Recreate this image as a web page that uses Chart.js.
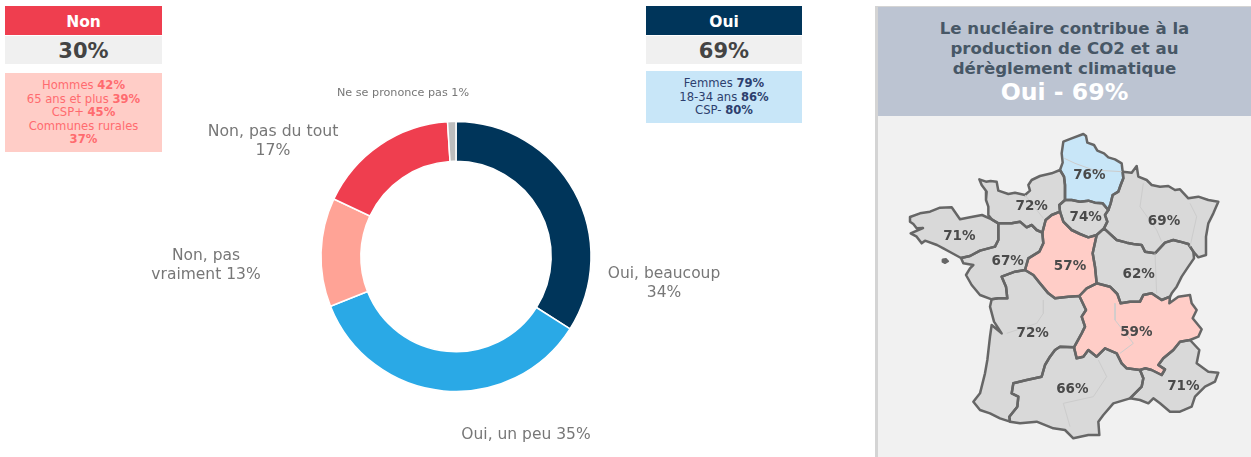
<!DOCTYPE html>
<html lang="fr">
<head>
<meta charset="UTF-8">
<title>Le nucléaire contribue à la production de CO2</title>
<script src="https://cdn.jsdelivr.net/npm/chart.js"></script>
<style>
    html, body { margin: 0; padding: 0; background: #fff; overflow: hidden; }
    body { width: 1251px; height: 457px; position: relative; font-family: "DejaVu Sans", sans-serif; }
    .box { position: absolute; text-align: center; box-sizing: border-box; }
    .head { height: 29px; line-height: 32px; font-weight: bold; font-size: 15.5px; color: #fff; top: 6px; }
    .score { height: 28px; line-height: 31px; font-weight: bold; font-size: 21px; color: #444; background: #f0f0f0; top: 36px; }
    .detail { font-size: 11.6px; line-height: 13.6px; }
    #non-head, #non-score, #non-detail { left: 5px; width: 157px; }
    #oui-head, #oui-score, #oui-detail { left: 646px; width: 156px; }
    #non-head { background: #ef3e4f; }
    #oui-head { background: #00355a; }
    #non-detail { top: 73px; height: 79px; padding-top: 6px; background: #ffcdc7; color: #ff6b6f; }
    #oui-detail { top: 71px; height: 52px; padding-top: 6px; background: #c8e6f8; color: #2d3f6e; }
    #panel { position: absolute; left: 875px; top: 6px; width: 376px; height: 451px; border-left: 3px solid #d4d4d4; border-top: 1px solid #d4d4d4; box-sizing: border-box; background: #f1f1f1; }
    #panel-head { height: 109px; background: #bcc4d2; text-align: center; padding-top: 12px; box-sizing: border-box; color: #475766; font-weight: bold; font-size: 16.6px; line-height: 20px; }
    #panel-head span { display: block; color: #fff; font-size: 23.6px; line-height: 26px; }
    canvas { position: absolute; display: block; }
</style>
</head>
<body>
<div class="box head" id="non-head">Non</div>
<div class="box score" id="non-score">30%</div>
<div class="box detail" id="non-detail">Hommes <b>42%</b><br>65 ans et plus <b>39%</b><br>CSP+ <b>45%</b><br>Communes rurales<br><b>37%</b></div>
<div class="box head" id="oui-head">Oui</div>
<div class="box score" id="oui-score">69%</div>
<div class="box detail" id="oui-detail">Femmes <b>79%</b><br>18-34 ans <b>86%</b><br>CSP- <b>80%</b></div>
<div id="panel">
    <div id="panel-head">Le nucléaire contribue à la<br>production de CO2 et au<br>dérèglement climatique<span>Oui - 69%</span></div>
</div>
<canvas id="donut" width="612" height="401" style="left:150px;top:56px"></canvas>
<canvas id="map" width="370" height="330" style="left:880px;top:120px"></canvas>

<script>
// donut
const answers = ['Oui, beaucoup', 'Oui, un peu', 'Non, pas vraiment', 'Non, pas du tout', 'Ne se prononce pas'];
const answerValues = [34, 35, 13, 17, 1];
const answerColors = ['#00355a', '#2aa9e6', '#ffa396', '#ef3e4f', '#bdbdbd'];

// map: scores by region
const regionNames = ['Hauts-de-France', 'Normandie', 'Bretagne', 'Pays de la Loire', 'Centre-Val de Loire', 'Ile-de-France',
    'Grand Est', 'Bourgogne-Franche-Comte', 'Nouvelle-Aquitaine', 'Auvergne-Rhone-Alpes', 'Occitanie', 'PACA'];
const regionValues = [76, 72, 71, 67, 57, 74, 69, 62, 72, 59, 66, 71];

// map: borders in map units (x 0-1110, y 0-990), each one shared by the regions on both sides
const hdfCoast = [[540,150],[548,128],[545,100],[550,65],[575,55],[610,42],[618,48],[622,68],[642,75],[652,92],[672,100],[685,112],[705,118],[725,130],[728,155]];
const hdfGrandEst = [[728,155],[730,175],[722,195],[715,215],[698,225],[692,250],[685,270]];
const hdfIdf = [[685,270],[668,250],[645,248],[625,242],[600,245],[575,240],[555,240]];
const hdfNormandie = [[555,240],[555,195],[552,170],[540,150]];
const normandieCoast = [[540,150],[515,160],[480,168],[455,180],[445,195],[450,212],[435,225],[405,218],[385,222],[355,212],[350,185],[332,183],[318,185],[298,178],[305,195],[320,215],[318,240],[325,260],[325,285],[335,298]];
const normandieBretagne = [[335,298],[355,310]];
const normandieLoire = [[355,310],[395,310],[420,305],[440,322],[455,315],[470,330],[487,338]];
const normandieCentre = [[487,338],[497,300],[515,285],[540,275]];
const normandieIdf = [[540,275],[538,255],[555,240]];
const idfCentre = [[540,275],[550,305],[575,330],[600,342],[625,352],[650,345]];
const idfBourgogne = [[650,345],[672,325]];
const idfGrandEst = [[672,325],[682,305],[675,285],[685,270]];
const grandEstNorth = [[728,155],[755,158],[770,138],[775,170],[800,180],[815,195],[840,200],[865,198],[885,210],[900,208],[925,235],[955,230],[985,240],[1015,245],[1000,280],[985,310],[978,350],[978,405],[955,412],[940,395]];
const grandEstBourgogne = [[940,395],[925,372],[900,365],[880,360],[855,368],[825,400],[795,395],[785,375],[760,372],[740,368],[710,360],[672,325]];
const bourgogneEast = [[940,395],[942,415],[925,440],[905,470],[890,500],[875,520],[870,530]];
const bourgogneAuvergne = [[870,530],[845,540],[815,520],[790,525],[780,545],[750,545],[722,550],[712,522],[690,500],[650,490]];
const bourgogneCentre = [[650,490],[645,440],[638,400],[650,345]];
const centreAuvergne = [[650,490],[620,505],[598,528]];
const centreAquitaine = [[598,528],[565,530],[525,535],[505,520],[480,490],[460,465],[435,450]];
const centreLoire = [[435,450],[445,415],[478,395],[490,370],[487,338]];
const loireAquitaine = [[435,450],[405,455],[365,470],[378,500],[382,535],[355,535],[335,538]];
const loireBretagne = [[355,310],[355,360],[345,380],[300,392],[270,408],[243,414]];
const loireCoast = [[243,414],[250,430],[280,435],[270,445],[258,465],[275,495],[300,525],[335,538]];
const bretagneCoast = [[243,414],[210,396],[190,385],[171,375],[135,362],[125,370],[110,350],[92,340],[129,324],[110,325],[100,312],[90,305],[90,291],[120,280],[150,275],[180,263],[215,262],[240,298],[270,292],[306,285],[335,298]];
const aquitaineCoast = [[335,538],[330,560],[342,605],[365,640],[335,615],[330,650],[322,720],[315,760],[300,820],[280,845],[300,870],[330,880],[360,895],[390,905]];
const aquitaineAuvergne = [[598,528],[618,570],[605,590],[615,620],[605,640],[582,682]];
const aquitaineOccitanie = [[582,682],[540,680],[525,690],[510,710],[495,735],[485,770],[440,780],[400,790],[395,820],[415,830],[412,860],[388,890],[390,905]];
const occitanieAuvergne = [[582,682],[590,715],[610,710],[625,690],[650,710],[675,685],[710,700],[725,730],[740,745],[780,750]];
const occitaniePaca = [[780,750],[790,775],[785,800],[750,835]];
const occitanieCoast = [[750,835],[700,850],[670,885],[655,905],[658,945],[625,945],[580,955],[555,930],[520,925],[470,905],[420,910],[390,905]];
const auvergnePaca = [[780,750],[795,745],[815,750],[845,765],[855,748],[835,735],[850,715],[880,690],[900,665],[930,660]];
const auvergneEast = [[930,660],[955,650],[965,628],[938,595],[950,570],[935,550],[930,525],[895,530],[868,550],[870,530]];
const pacaCoast = [[930,660],[958,690],[950,730],[985,755],[1015,758],[1005,785],[975,800],[945,830],[935,860],[900,875],[870,875],[840,850],[820,835],[805,850],[780,840],[750,835]];
const belleIle = [[187,418],[198,416],[205,424],[195,430],[188,426]];

// old region limits, the faint lines inside the big regions
const oldLimits = [
    [[553,115],[585,130],[640,150],[725,155]],
    [[790,190],[780,260],[830,330],[845,365]],
    [[930,250],[950,290],[930,380]],
    [[490,540],[490,580],[470,610],[380,640]],
    [[825,400],[830,520]],
    [[705,550],[705,600],[760,670],[720,700]],
    [[655,720],[680,770],[640,830],[550,850],[570,920]],
    [[435,225],[490,295]]
];

const back = chain => chain.slice().reverse();

const regionShapes = [
    [...hdfCoast, ...hdfGrandEst, ...hdfIdf, ...hdfNormandie],
    [...normandieCoast, ...normandieBretagne, ...normandieLoire, ...normandieCentre, ...normandieIdf, ...hdfNormandie],
    [...bretagneCoast, ...normandieBretagne, ...loireBretagne],
    [...normandieLoire, ...back(centreLoire), ...loireAquitaine, ...back(loireCoast), ...back(loireBretagne)],
    [...idfCentre, ...back(bourgogneCentre), ...centreAuvergne, ...centreAquitaine, ...centreLoire, ...normandieCentre],
    [...back(normandieIdf), ...idfCentre, ...idfBourgogne, ...idfGrandEst, ...hdfIdf],
    [...grandEstNorth, ...grandEstBourgogne, ...idfGrandEst, ...back(hdfGrandEst)],
    [...back(grandEstBourgogne), ...bourgogneEast, ...bourgogneAuvergne, ...bourgogneCentre, ...idfBourgogne],
    [...back(loireAquitaine), ...back(centreAquitaine), ...aquitaineAuvergne, ...aquitaineOccitanie, ...back(aquitaineCoast)],
    [...back(centreAuvergne), ...back(bourgogneAuvergne), ...back(auvergneEast), ...back(auvergnePaca), ...back(occitanieAuvergne), ...back(aquitaineAuvergne)],
    [...occitanieAuvergne, ...occitaniePaca, ...occitanieCoast, ...back(aquitaineOccitanie)],
    [...auvergnePaca, ...pacaCoast, ...back(occitaniePaca)]
];
const regionLabelSpots = [[628,166],[455,258],[238,350],[383,423],[570,440],[617,293],[852,305],[776,464],[458,640],[769,637],[577,807],[910,799]];

// colour follows the score
function regionColor(v) {
    if (v >= 75) return '#c8e6f8';
    if (v < 60) return '#ffcdc7';
    return '#d9d9d9';
}

const sliceLabels = [
    { lines: ['Oui, beaucoup', '34%'], x: 514, y: [218, 237], size: 15.5 },
    { lines: ['Oui, un peu 35%'], x: 376, y: [379], size: 15.5 },
    { lines: ['Non, pas', 'vraiment 13%'], x: 56, y: [200, 219], size: 15.5 },
    { lines: ['Non, pas du tout', '17%'], x: 123, y: [76, 95], size: 15.7 },
    { lines: ['Ne se prononce pas 1%'], x: 253, y: [37], size: 11.2 }
];

const sliceLabelPlugin = {
    id: 'sliceLabels',
    afterDraw(chart) {
        const ctx = chart.ctx;
        ctx.save();
        ctx.fillStyle = '#777';
        ctx.textAlign = 'center';
        ctx.textBaseline = 'middle';
        sliceLabels.forEach(l => {
            ctx.font = l.size + 'px "DejaVu Sans"';
            l.lines.forEach((t, i) => ctx.fillText(t, l.x, l.y[i]));
        });
        ctx.restore();
    }
};

new Chart(document.getElementById('donut'), {
    type: 'doughnut',
    data: {
        labels: answers,
        datasets: [{ data: answerValues, backgroundColor: answerColors, borderColor: '#fff', borderWidth: 1.5 }]
    },
    options: {
        responsive: false,
        animation: false,
        radius: 135,
        cutout: '70.5%',
        plugins: { legend: { display: false }, tooltip: { enabled: false } }
    },
    plugins: [sliceLabelPlugin]
});

// fills every outline from the points the library placed, then writes the scores
const regionFillPlugin = {
    id: 'regionFill',
    beforeDatasetsDraw(chart) {
        const ctx = chart.ctx;
        chart.data.datasets.forEach((ds, i) => {
            if (!ds.areaColor) return;
            const pts = chart.getDatasetMeta(i).data;
            ctx.beginPath();
            pts.forEach((p, j) => j ? ctx.lineTo(p.x, p.y) : ctx.moveTo(p.x, p.y));
            ctx.closePath();
            ctx.fillStyle = ds.areaColor;
            ctx.fill();
        });
    },
    afterDatasetsDraw(chart) {
        const ctx = chart.ctx;
        const sx = chart.scales.x, sy = chart.scales.y;
        ctx.save();
        ctx.font = 'bold 13.5px "DejaVu Sans"';
        ctx.fillStyle = '#4a4a4a';
        ctx.textAlign = 'center';
        ctx.textBaseline = 'middle';
        regionValues.forEach((v, i) => {
            const [x, y] = regionLabelSpots[i];
            ctx.fillText(v + '%', sx.getPixelForValue(x), sy.getPixelForValue(y));
        });
        ctx.restore();
    }
};

function toPoints(shape, close) {
    const pts = shape.map(p => ({ x: p[0], y: p[1] }));
    if (close) pts.push({ x: shape[0][0], y: shape[0][1] });
    return pts;
}

const mapDatasets = [];
oldLimits.forEach(l => mapDatasets.push({ data: toPoints(l, false), borderColor: '#cccccc', borderWidth: 1, order: 1 }));
regionShapes.forEach((s, i) => mapDatasets.push({
    label: regionNames[i],
    data: toPoints(s, true),
    areaColor: regionColor(regionValues[i]),
    borderColor: '#666',
    borderWidth: 2.5,
    order: 2
}));
mapDatasets.push({ label: 'Belle-Ile', data: toPoints(belleIle, true), areaColor: '#666', borderColor: '#666', borderWidth: 1.5, order: 2 });

new Chart(document.getElementById('map'), {
    type: 'scatter',
    data: { datasets: mapDatasets },
    options: {
        responsive: false,
        animation: false,
        showLine: true,
        elements: { point: { radius: 0 }, line: { tension: 0, borderJoinStyle: 'round' } },
        layout: { padding: 0 },
        scales: {
            x: { type: 'linear', display: false, min: 0, max: 1110 },
            y: { type: 'linear', display: false, min: 0, max: 990, reverse: true }
        },
        plugins: { legend: { display: false }, tooltip: { enabled: false } }
    },
    plugins: [regionFillPlugin]
});
</script>
</body>
</html>
